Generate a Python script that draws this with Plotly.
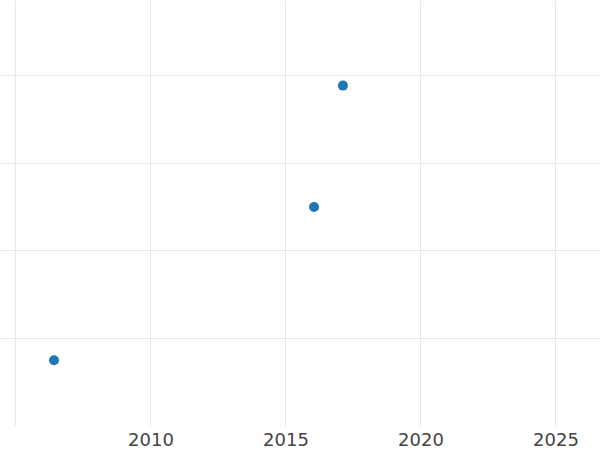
import plotly.graph_objects as go

years = [2006.41, 2016.04, 2017.11]
values = [0.75, 2.5, 3.886]
x_tick_vals = [2005, 2010, 2015, 2020, 2025]
x_tick_text = ["", "2010", "2015", "2020", "2025"]
y_tick_vals = [1, 2, 3, 4]

fig = go.Figure(go.Scatter(
    x=years, y=values, mode="markers",
    marker=dict(color="#1f77b4", size=10),
))

fig.update_layout(
    width=600, height=450,
    margin=dict(l=0, r=0, t=1, b=22),
    paper_bgcolor="white", plot_bgcolor="white",
    showlegend=False,
    font=dict(family="DejaVu Sans", size=18, color="#444"),
)
fig.update_xaxes(
    range=[2004.41, 2026.63],
    tickmode="array", tickvals=x_tick_vals, ticktext=x_tick_text,
    showgrid=True, gridcolor="#e8e8e8", gridwidth=1,
    zeroline=False, showline=False, ticks="",
    ticklabelstandoff=1,
)
fig.update_yaxes(
    range=[0, 4.852],
    tickmode="array", tickvals=y_tick_vals,
    showticklabels=False,
    showgrid=True, gridcolor="#e8e8e8", gridwidth=1,
    zeroline=False, showline=False, ticks="",
)

fig.write_html(
    "out.html",
    config={"displayModeBar": False},
    post_script="document.body.style.margin='0';document.body.style.overflow='hidden';",
)
